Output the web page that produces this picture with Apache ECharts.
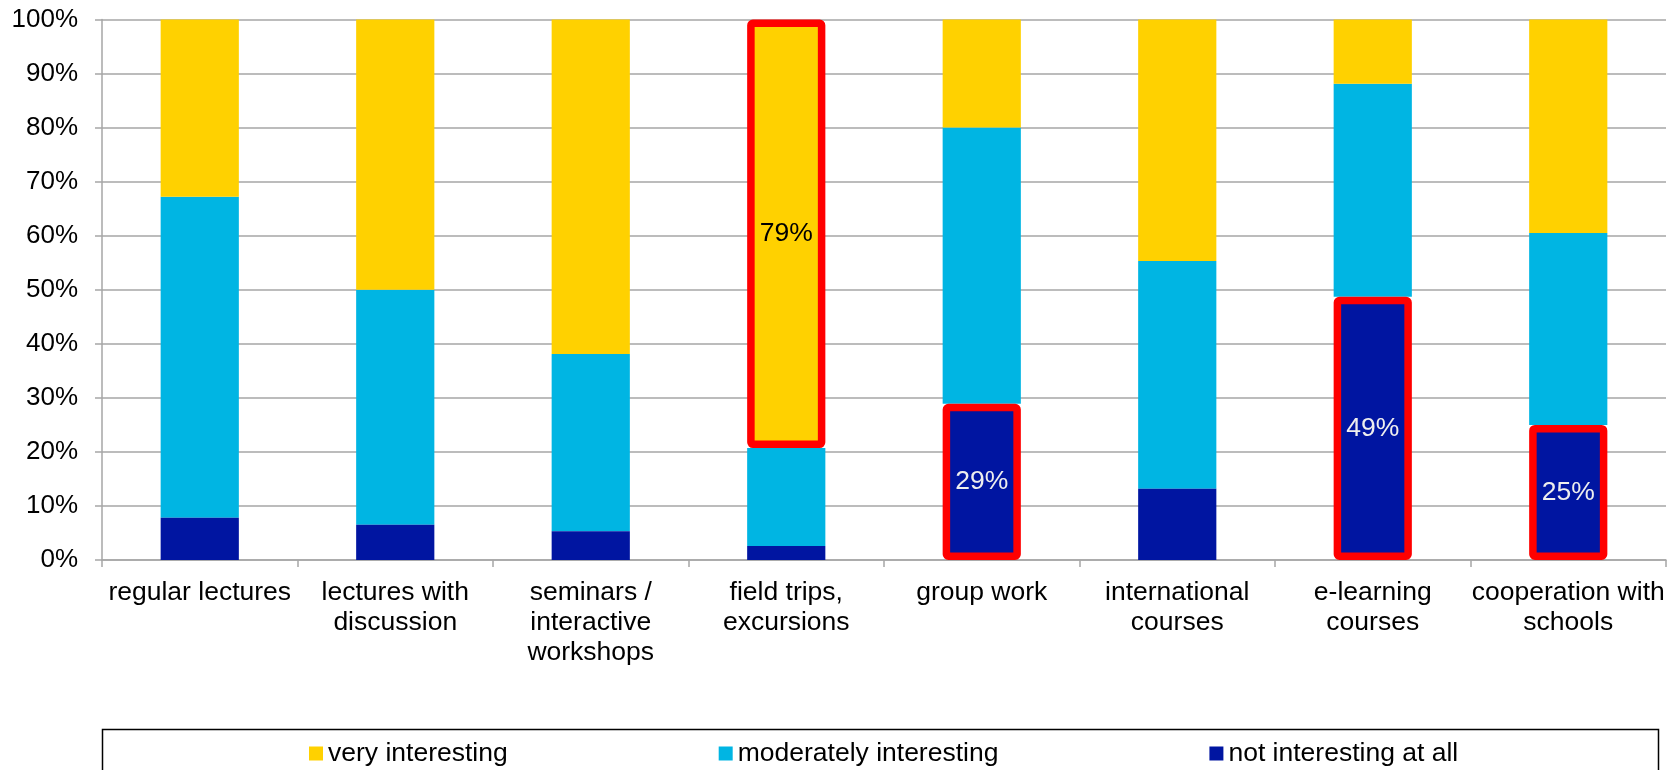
<!DOCTYPE html>
<html>
<head>
<meta charset="utf-8">
<script src="https://cdn.jsdelivr.net/npm/echarts@6/dist/echarts.min.js"></script>
<style>
	html, body { margin: 0; padding: 0; background: #fff; }
	#chart { width: 1676px; height: 770px; }
</style>
</head>
<body>
<div id="chart"></div>
<script>
// categories along the x axis
const categories = [
	'regular lectures',
	'lectures with\ndiscussion',
	'seminars /\ninteractive\nworkshops',
	'field trips,\nexcursions',
	'group work',
	'international\ncourses',
	'e-learning\ncourses',
	'cooperation with\nschools'
]
// shares in percent
const notInteresting = [7.8, 6.5, 5.3, 2.6, 28.9, 13.2, 48.7, 25.0]
const moderatelyInteresting = [59.4, 43.5, 32.8, 18.1, 51.1, 42.1, 39.4, 35.5]
const veryInteresting = [32.8, 50.0, 61.9, 79.3, 20.0, 44.7, 11.9, 39.5]
// which bars are framed in red and labelled
const veryHighlight = [3]
const notHighlight = [4, 6, 7]
const yTicks = [0, 10, 20, 30, 40, 50, 60, 70, 80, 90, 100]

const font = "'Liberation Sans', Arial, sans-serif"
const gridGray = '#a6a6a6'

function buildData(values, highlight, labelColor) {
	return values.map((v, i) => {
		if (highlight.indexOf(i) === -1) return v
		return {
			value: v,
			itemStyle: { borderColor: '#ff0000', borderWidth: 7.5, borderRadius: 2 },
			label: {
				show: true,
				position: 'inside',
				color: labelColor,
				fontSize: 26.5,
				fontFamily: font,
				formatter: p => Math.round(p.value) + '%'
			}
		}
	})
}

const chart = echarts.init(document.getElementById('chart'))

const option = {
	animation: false,
	backgroundColor: '#fff',
	textStyle: { fontFamily: font },
	grid: { left: 102, right: 10, top: 19.5, bottom: 210 },
	legend: {
		data: ['very interesting', 'moderately interesting', 'not interesting at all'],
		left: 309,
		top: 740,
		padding: 0,
		itemGap: 211,
		itemWidth: 14,
		itemHeight: 14,
		icon: 'rect',
		textStyle: { fontSize: 26.5, color: '#000', fontFamily: font }
	},
	graphic: [{
		type: 'rect',
		left: 100,
		top: 727,
		shape: { width: 1556, height: 70 },
		style: { fill: 'none', stroke: '#000', lineWidth: 1.5 }
	}],
	xAxis: {
		type: 'category',
		data: categories,
		axisLine: { lineStyle: { color: gridGray, width: 1.5 } },
		axisTick: { show: true, length: 7, alignWithLabel: false, lineStyle: { color: gridGray, width: 1.5 } },
		axisLabel: {
			interval: 0,
			color: '#000',
			fontSize: 26.5,
			lineHeight: 30,
			margin: 18,
			fontFamily: font
		}
	},
	yAxis: {
		type: 'value',
		min: yTicks[0],
		max: yTicks[yTicks.length - 1],
		interval: 10,
		axisLine: { show: true, lineStyle: { color: gridGray, width: 1.5 } },
		axisTick: { show: true, length: 7, lineStyle: { color: gridGray, width: 1.5 } },
		splitLine: { lineStyle: { color: gridGray, width: 1.5 } },
		axisLabel: {
			color: '#000',
			fontSize: 26,
			margin: 24,
			fontFamily: font,
			formatter: '{value}%'
		}
	},
	series: [
		{
			name: 'not interesting at all',
			type: 'bar',
			stack: 'total',
			barWidth: '40%',
			z: 4,
			itemStyle: { color: '#0015a1' },
			data: buildData(notInteresting, notHighlight, '#eeeeee')
		},
		{
			name: 'moderately interesting',
			type: 'bar',
			stack: 'total',
			barWidth: '40%',
			z: 2,
			itemStyle: { color: '#00b5e3' },
			data: moderatelyInteresting
		},
		{
			name: 'very interesting',
			type: 'bar',
			stack: 'total',
			barWidth: '40%',
			z: 3,
			itemStyle: { color: '#ffd100' },
			data: buildData(veryInteresting, veryHighlight, '#000000')
		}
	]
}

chart.setOption(option)
</script>
</body>
</html>
